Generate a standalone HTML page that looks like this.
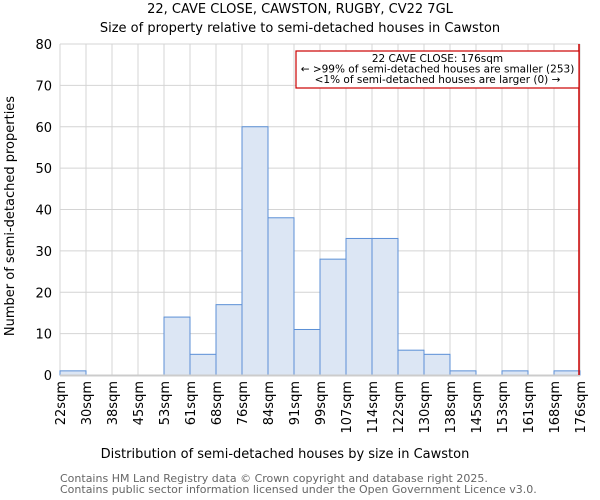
<!DOCTYPE html>
<html><head><meta charset="utf-8"><style>
body{margin:0;background:#fff}
svg{display:block;font-family:"DejaVu Sans","Liberation Sans",sans-serif}
</style></head><body>
<svg id="c" width="600" height="500">
<text x="300" y="13" text-anchor="middle" font-size="13">22, CAVE CLOSE, CAWSTON, RUGBY, CV22 7GL</text>
<text x="300" y="32" text-anchor="middle" font-size="13">Size of property relative to semi-detached houses in Cawston</text>
<g id="grid"></g><g id="bars"></g><g id="axes"></g>
<text x="285" y="458" text-anchor="middle" font-size="13">Distribution of semi-detached houses by size in Cawston</text>
<text transform="translate(14,216) rotate(-90)" text-anchor="middle" font-size="13">Number of semi-detached properties</text>
<text x="60" y="482" font-size="11" fill="#666">Contains HM Land Registry data © Crown copyright and database right 2025.</text>
<text x="60" y="493" font-size="11" fill="#666">Contains public sector information licensed under the Open Government Licence v3.0.</text>
</svg>
<script>
const tickLabels=["22sqm","30sqm","38sqm","45sqm","53sqm","61sqm","68sqm","76sqm","84sqm","91sqm","99sqm","107sqm","114sqm","122sqm","130sqm","138sqm","145sqm","153sqm","161sqm","168sqm","176sqm"];
const counts=[1,0,0,0,14,5,17,60,38,11,28,33,33,6,5,1,0,1,0,1];
const yTicks=[0,10,20,30,40,50,60,70,80];
const markerIndex=20;
const NS="http://www.w3.org/2000/svg";
const X0=60,X1=580,Y0=375,Y1=44,YMAX=80;
const n=counts.length,bw=(X1-X0)/n;
const xs=i=>X0+i*bw, ys=v=>Y0-(v/YMAX)*(Y0-Y1);
function mk(tag,attrs,parent){const e=document.createElementNS(NS,tag);for(const k in attrs)e.setAttribute(k,attrs[k]);document.getElementById(parent).appendChild(e);return e;}
yTicks.forEach(t=>{
 const l=mk('line',{x1:X0,x2:X1,y1:ys(t),y2:ys(t),stroke:'#d4d4d4','stroke-width':1},'grid');
 
 
 const tx=mk('text',{x:X0-8,y:ys(t)+5,'text-anchor':'end','font-size':13},'axes');
 tx.textContent=t;
 
 
});
tickLabels.forEach((lab,i)=>{
 const l=mk('line',{x1:xs(i),x2:xs(i),y1:Y1,y2:Y0,stroke:'#d4d4d4','stroke-width':1},'grid');
 
 
 const tx=mk('text',{transform:`translate(${xs(i)+5},381) rotate(-90)`,'text-anchor':'end','font-size':13},'axes');
 tx.textContent=lab;
 
 
});
counts.forEach((v,i)=>{
 if(v<=0)return;
 const r=mk('rect',{x:xs(i),y:ys(v),width:bw,height:Y0-ys(v),fill:'#dce6f4',stroke:'#5b8fd6','stroke-width':1},'bars');
 
 
});
const ax=mk('line',{x1:X0,x2:X1,y1:Y0+0.5,y2:Y0+0.5,stroke:'#ccc','stroke-width':2},'axes');


const mx=xs(markerIndex)-1;
const ml=mk('line',{x1:mx,x2:mx,y1:Y1,y2:Y0,stroke:'#c00','stroke-width':1.5},'axes');


const box=mk('rect',{x:296,y:51,width:mx-296,height:37,fill:'#fff',stroke:'#c00','stroke-width':1.2},'axes');


["22 CAVE CLOSE: 176sqm","← >99% of semi-detached houses are smaller (253)","<1% of semi-detached houses are larger (0) →"].forEach((s,k)=>{
 const t=mk('text',{x:(296+mx)/2,y:62+k*10.5,'text-anchor':'middle','font-size':10.5},'axes');
 t.textContent=s;
 
 
});
</script>
</body></html>
